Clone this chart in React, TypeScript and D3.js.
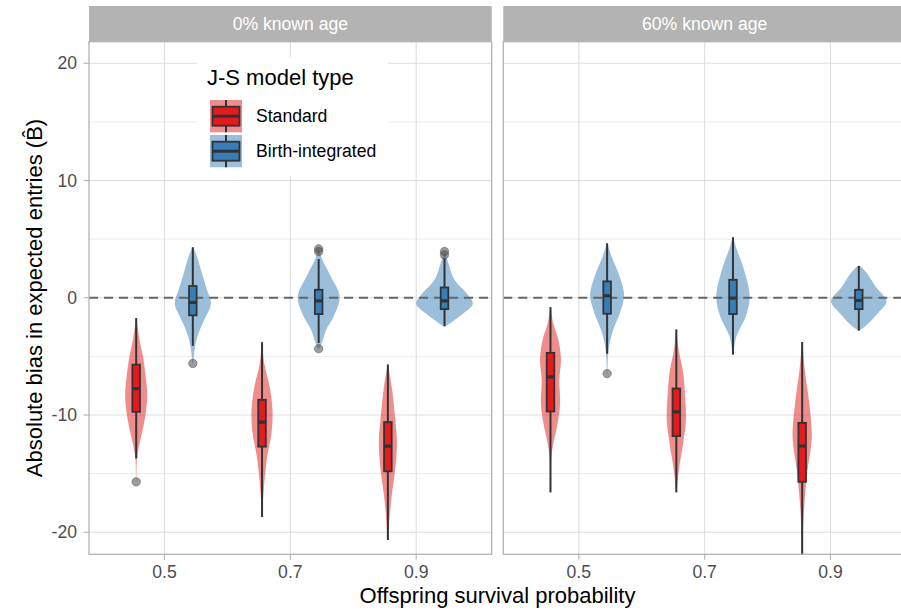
import React from "react";
import * as d3 from "d3";

const panels = ["0% known age", "60% known age"];
const survival = ["0.5", "0.7", "0.9"];
const models = ["Standard", "Birth-integrated"];
const yTicks = [-20, -10, 0, 10, 20];
const yMinorTicks = [-15, -5, 5, 15];

// [panel, survival, model, whiskerLow, q1, median, q3, whiskerHigh]
const boxStats: [number, string, string, number, number, number, number, number][] = [
  [0, "0.5", "Standard", -13.7, -9.73, -7.74, -5.7, -1.73],
  [0, "0.5", "Birth-integrated", -4.1, -1.5, -0.4, 1.0, 4.3],
  [0, "0.7", "Standard", -18.7, -12.7, -10.6, -8.7, -3.8],
  [0, "0.7", "Birth-integrated", -3.86, -1.39, -0.26, 0.68, 3.3],
  [0, "0.9", "Standard", -20.65, -14.8, -12.65, -10.6, -5.7],
  [0, "0.9", "Birth-integrated", -2.44, -0.97, -0.26, 0.88, 3.38],
  [1, "0.5", "Standard", -16.6, -9.7, -6.75, -4.7, -0.8],
  [1, "0.5", "Birth-integrated", -4.77, -1.36, 0.17, 1.4, 4.65],
  [1, "0.7", "Standard", -16.6, -11.8, -9.73, -7.74, -2.7],
  [1, "0.7", "Birth-integrated", -4.85, -1.39, -0.03, 1.53, 5.17],
  [1, "0.9", "Standard", -22.5, -15.7, -12.65, -10.67, -3.77],
  [1, "0.9", "Birth-integrated", -2.8, -0.97, -0.23, 0.68, 2.72],
];

// [panel, survival, model, value]
const outliers: [number, string, string, number][] = [
  [0, "0.5", "Standard", -15.7],
  [0, "0.5", "Birth-integrated", -5.6],
  [0, "0.7", "Birth-integrated", 4.17],
  [0, "0.7", "Birth-integrated", 3.94],
  [0, "0.7", "Birth-integrated", -4.34],
  [0, "0.9", "Birth-integrated", 3.94],
  [0, "0.9", "Birth-integrated", 3.66],
  [1, "0.5", "Birth-integrated", -6.47],
];

// relative density profiles [value, relative width], same order as boxStats
const densities: [number, number][][] = [
  [[-1.73, 0.01], [-2.7, 0.06], [-4, 0.15], [-5, 0.24], [-7, 0.35], [-8.4, 0.39], [-10.1, 0.32], [-11.8, 0.18], [-13, 0.07], [-14, 0.02], [-15.7, 0.01]],
  [[4.3, 0.01], [3.5, 0.15], [2.1, 0.32], [0.68, 0.5], [-0.5, 0.64], [-1.6, 0.46], [-2.7, 0.25], [-3.8, 0.11], [-5.0, 0.035], [-5.6, 0.01]],
  [[-3.8, 0.01], [-5.6, 0.08], [-7.6, 0.27], [-9.6, 0.37], [-11.4, 0.34], [-13.6, 0.18], [-15.8, 0.08], [-17.5, 0.03], [-18.7, 0.01]],
  [[4.17, 0.01], [3.3, 0.12], [1.9, 0.41], [0.1, 0.74], [-1.6, 0.53], [-2.7, 0.27], [-3.8, 0.12], [-4.34, 0.02]],
  [[-5.7, 0.01], [-7.8, 0.15], [-10.1, 0.25], [-12.3, 0.32], [-14.6, 0.26], [-16.8, 0.14], [-18.8, 0.06], [-20.65, 0.01]],
  [[3.94, 0.01], [2.98, 0.13], [1.53, 0.35], [0.4, 0.77], [-0.5, 1.0], [-1.3, 0.68], [-2.0, 0.3], [-2.44, 0.03]],
  [[-0.8, 0.01], [-2.2, 0.1], [-3.6, 0.28], [-5.3, 0.37], [-7.0, 0.31], [-9.0, 0.34], [-10.7, 0.25], [-12.4, 0.1], [-13.6, 0.03], [-15, 0.01], [-16.6, 0.005]],
  [[4.65, 0.01], [3.5, 0.16], [2.1, 0.4], [0.26, 0.6], [-1.3, 0.45], [-2.7, 0.22], [-3.85, 0.09], [-5.0, 0.03], [-6.47, 0.01]],
  [[-2.7, 0.01], [-4.4, 0.08], [-6.4, 0.24], [-8.4, 0.31], [-10.4, 0.34], [-12.4, 0.24], [-14.7, 0.09], [-16.6, 0.01]],
  [[5.17, 0.01], [4.1, 0.14], [2.4, 0.39], [0.1, 0.59], [-1.6, 0.45], [-3.3, 0.12], [-4.85, 0.01]],
  [[-3.77, 0.01], [-6.1, 0.09], [-9.0, 0.25], [-11.9, 0.34], [-14.7, 0.19], [-17.5, 0.08], [-19.8, 0.03], [-22.5, 0.01]],
  [[2.72, 0.05], [2.1, 0.29], [0.97, 0.59], [-0.3, 0.98], [-1.3, 0.68], [-2.3, 0.29], [-2.8, 0.02]],
];

const fillColors: Record<string, string> = { Standard: "#E41A1C", "Birth-integrated": "#377EB8" };

const W = 901;
const H = 614;
const FONT = "'Liberation Sans', Arial, Helvetica, sans-serif";
const panelLefts = [89, 503.3];
const panelW = 402.7;
const panelTop = 41.7;
const panelBottom = 554.3;
const stripTop = 6;

export default function App() {
  const y = d3.scaleLinear().domain([-21.88, 21.84]).range([panelBottom, panelTop]);
  const xScales = panelLefts.map((l) =>
    d3.scalePoint<string>().domain(survival).range([l, l + panelW]).padding(0.6)
  );
  const step = xScales[0].step();
  const dodge = d3.scaleBand<string>().domain(models).range([-0.45 * step, 0.45 * step]);
  const halfMax = dodge.bandwidth() / 2;
  const boxHalf = 3.8;

  const violinArea = (cx: number) =>
    d3
      .area<[number, number]>()
      .y((d) => y(d[0]))
      .x0((d) => cx - d[1] * halfMax)
      .x1((d) => cx + d[1] * halfMax)
      .curve(d3.curveCatmullRom.alpha(0.5));

  const centerOf = (p: number, s: string, m: string) =>
    (xScales[p](s) as number) + (dodge(m) as number) + dodge.bandwidth() / 2;

  return (
    <svg
      width={W}
      height={H}
      style={{ position: "absolute", left: 0, top: 0, background: "#fff" }}
      fontFamily={FONT}
    >
      <defs>
        {panels.map((_, p) => (
          <clipPath id={`clip${p}`} key={p}>
            <rect x={panelLefts[p]} y={panelTop} width={panelW} height={panelBottom - panelTop} />
          </clipPath>
        ))}
      </defs>
      <rect x={0} y={0} width={W} height={H} fill="#fff" />
      {panels.map((name, p) => {
        const x = xScales[p];
        const l = panelLefts[p];
        return (
          <g key={name}>
            <rect x={l} y={stripTop} width={panelW} height={panelTop - stripTop} fill="#B3B3B3" />
            <text x={l + panelW / 2} y={(stripTop + panelTop) / 2} dy="0.35em" textAnchor="middle" fill="#fff" fontSize={17.6}>
              {name}
            </text>
            {yMinorTicks.map((t) => (
              <line key={"mi" + t} x1={l} x2={l + panelW} y1={y(t)} y2={y(t)} stroke="#DEDEDE" strokeWidth={0.6} />
            ))}
            {yTicks.map((t) => (
              <line key={"ma" + t} x1={l} x2={l + panelW} y1={y(t)} y2={y(t)} stroke="#DEDEDE" strokeWidth={1.1} />
            ))}
            {survival.map((s) => (
              <line key={"v" + s} x1={x(s)} x2={x(s)} y1={panelTop} y2={panelBottom} stroke="#DEDEDE" strokeWidth={1.1} />
            ))}
            <g clipPath={`url(#clip${p})`}>
              {boxStats.map((b, i) =>
                b[0] === p ? (
                  <path
                    key={"vi" + i}
                    d={violinArea(centerOf(p, b[1], b[2]))(densities[i]) || ""}
                    fill={fillColors[b[2]]}
                    fillOpacity={0.5}
                  />
                ) : null
              )}
              <line x1={l} x2={l + panelW} y1={y(0)} y2={y(0)} stroke="#666" strokeWidth={2} strokeDasharray="9,6" />
              {boxStats.map((b, i) => {
                if (b[0] !== p) return null;
                const cx = centerOf(p, b[1], b[2]);
                return (
                  <g key={"bx" + i}>
                    <line x1={cx} x2={cx} y1={y(b[7])} y2={y(b[6])} stroke="#333" strokeWidth={2} />
                    <line x1={cx} x2={cx} y1={y(b[4])} y2={y(b[3])} stroke="#333" strokeWidth={2} />
                    <rect
                      x={cx - boxHalf}
                      y={y(b[6])}
                      width={boxHalf * 2}
                      height={y(b[4]) - y(b[6])}
                      fill={fillColors[b[2]]}
                      stroke="#333"
                      strokeWidth={1.8}
                    />
                    <line x1={cx - boxHalf} x2={cx + boxHalf} y1={y(b[5])} y2={y(b[5])} stroke="#333" strokeWidth={3.2} />
                  </g>
                );
              })}
              {outliers.map((o, i) =>
                o[0] === p ? (
                  <circle
                    key={"o" + i}
                    cx={centerOf(p, o[1], o[2])}
                    cy={y(o[3])}
                    r={4.2}
                    fill="#4d4d4d"
                    fillOpacity={0.55}
                    stroke="#4d4d4d"
                    strokeOpacity={0.5}
                    strokeWidth={1}
                  />
                ) : null
              )}
            </g>
            <rect x={l} y={panelTop} width={panelW} height={panelBottom - panelTop} fill="none" stroke="#B3B3B3" strokeWidth={1.3} />
            {survival.map((s) => (
              <g key={"xt" + s}>
                <line x1={x(s)} x2={x(s)} y1={panelBottom} y2={panelBottom + 5.5} stroke="#B3B3B3" strokeWidth={1.1} />
                <text x={x(s)} y={578} textAnchor="middle" fill="#4D4D4D" fontSize={17.6}>
                  {s}
                </text>
              </g>
            ))}
          </g>
        );
      })}
      {yTicks.map((t) => (
        <g key={"yt" + t}>
          <line x1={panelLefts[0] - 5.5} x2={panelLefts[0]} y1={y(t)} y2={y(t)} stroke="#B3B3B3" strokeWidth={1.1} />
          <text x={77} y={y(t)} dy="0.35em" textAnchor="end" fill="#4D4D4D" fontSize={17.6}>
            {t}
          </text>
        </g>
      ))}
      <text
        transform={`translate(42,${(panelTop + panelBottom) / 2}) rotate(-90)`}
        textAnchor="middle"
        fontSize={22}
        fill="#000"
      >
        Absolute bias in expected entries (B̂)
      </text>
      <text x={497.5} y={603} textAnchor="middle" fontSize={22} fill="#000">
        Offspring survival probability
      </text>
      <g>
        <rect x={197} y={57} width={191} height={119} fill="#fff" />
        <text x={207} y={85} fontSize={22} fill="#000">
          J-S model type
        </text>
        {models.map((m, i) => {
          const ky = 100 + i * 35;
          const kx = 210;
          const kw = 32;
          const cx = kx + kw / 2;
          return (
            <g key={m}>
              <rect x={kx} y={ky} width={kw} height={32.3} fill={fillColors[m]} fillOpacity={0.5} />
              <line x1={cx} x2={cx} y1={ky} y2={ky + 32.3} stroke="#333" strokeWidth={2} />
              <rect x={kx + 2.5} y={ky + 6.7} width={kw - 5} height={19} fill={fillColors[m]} stroke="#333" strokeWidth={1.8} />
              <line x1={kx + 2.5} x2={kx + kw - 2.5} y1={ky + 16.2} y2={ky + 16.2} stroke="#333" strokeWidth={3} />
              <text x={256} y={ky + 16.2} dy="0.35em" fontSize={17.6} fill="#000">
                {m}
              </text>
            </g>
          );
        })}
      </g>
    </svg>
  );
}
